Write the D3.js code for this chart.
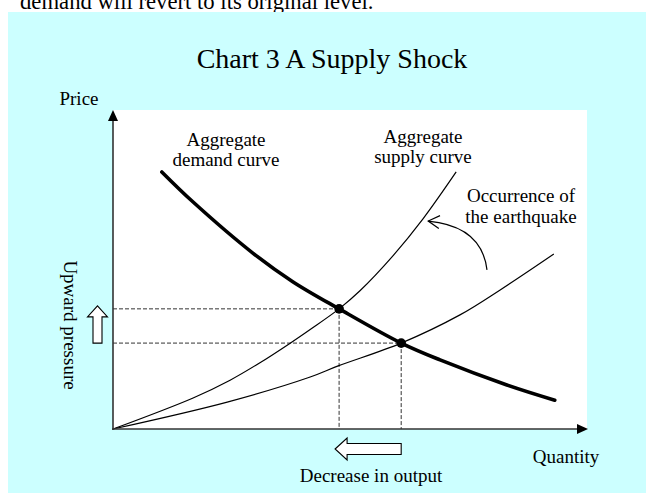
<!DOCTYPE html>
<html><head><meta charset="utf-8">
<script src="https://cdn.jsdelivr.net/npm/d3@7"></script>
<style>html,body{margin:0;padding:0;background:#fff;overflow:hidden}</style>
</head><body><svg id="c" width="646" height="494"></svg>
<script>
// ---- data (quantity, price) in arbitrary 0-100 units ----
const titleText = "Chart 3 A Supply Shock";
const introText = "demand will revert to its original level.";
const axisLabels = ["Quantity", "Price"];
const demandLabel = ["Aggregate", "demand curve"];
const supplyLabel = ["Aggregate", "supply curve"];
const shockLabel = ["Occurrence of", "the earthquake"];
const pressureLabel = ["Upward pressure"];
const outputLabel = ["Decrease in output"];

const demandCurve = [[10.3,81.1],[16.9,71.6],[29.5,55.5],[38.0,46.4],[47.7,37.9],[60.8,27.1],[69.0,21.8],[83.1,13.9],[93.2,9.1]];
const supplyAfter = [[0,0],[16.9,9.8],[24.7,15.4],[31.0,20.9],[37.3,27.0],[41.6,31.4],[47.7,37.9],[52.1,43.6],[59.1,54.7],[65.4,66.3],[72.4,81.1]];
const supplyBefore = [[0,0],[24.1,8.5],[41.6,16.4],[47.5,19.9],[60.8,27.1],[73.2,36.0],[81.6,43.8],[93.0,55.2]];
const equilibria = [[47.7,37.9],[60.8,27.1]];
const shockArrow = [[78.9,50.2],[77.8,64.0],[66.5,65.6]]; // start, control, tip

// ---- drawing ----
const svg = d3.select("#c");
const font = "'Liberation Serif','Times New Roman',serif";
const x = d3.scaleLinear([0,100],[113,587]);
const y = d3.scaleLinear([0,100],[429,112]);

svg.append("text").attr("x",20).attr("y",9).attr("font-family",font).attr("font-size",22.7)
  .attr("fill","#000").text(introText);
svg.append("rect").attr("x",8).attr("y",12).attr("width",640).attr("height",481).attr("fill","#ccffff");
svg.append("rect").attr("x",x(0)).attr("y",110).attr("width",x(100)-x(0)).attr("height",y(0)-110).attr("fill","#fff");

svg.append("text").attr("x",332).attr("y",68).attr("text-anchor","middle").attr("font-family",font)
  .attr("font-size",28).text(titleText);

// dashed guides
const g = svg.append("g");
equilibria.forEach(([q,p])=>{
  g.append("line").attr("x1",x(0)).attr("x2",x(q)).attr("y1",y(p)).attr("y2",y(p))
   .attr("stroke","#333").attr("stroke-width",1).attr("stroke-dasharray","4,2");
  g.append("line").attr("x1",x(q)).attr("x2",x(q)).attr("y1",y(p)).attr("y2",y(0))
   .attr("stroke","#333").attr("stroke-width",1).attr("stroke-dasharray","4,2");
});

const line = d3.line().x(d=>x(d[0])).y(d=>y(d[1])).curve(d3.curveCatmullRom.alpha(0.5));
g.append("path").attr("d",line(supplyBefore)).attr("fill","none").attr("stroke","#000").attr("stroke-width",1.2);
g.append("path").attr("d",line(supplyAfter)).attr("fill","none").attr("stroke","#000").attr("stroke-width",1.2);
g.append("path").attr("d",line(demandCurve)).attr("fill","none").attr("stroke","#000").attr("stroke-width",3.6).attr("stroke-linecap","round");
g.selectAll("circle.eq").data(equilibria).join("circle").attr("cx",d=>x(d[0])).attr("cy",d=>y(d[1])).attr("r",4.8).attr("fill","#000");

// axes
svg.append("line").attr("x1",x(0)).attr("x2",x(0)).attr("y1",y(0)+1).attr("y2",118).attr("stroke","#333").attr("stroke-width",1.6);
svg.append("path").attr("d",`M${x(0)},110 L${x(0)-5},121 L${x(0)+5},121 Z`).attr("fill","#000");
svg.append("line").attr("x1",x(0)-1).attr("x2",580).attr("y1",y(0)).attr("y2",y(0)).attr("stroke","#333").attr("stroke-width",1.6);
svg.append("path").attr("d",`M588,${y(0)} L577,${y(0)-5} L577,${y(0)+5} Z`).attr("fill","#000");

// shock arrow
const [s0,c0,t0] = shockArrow.map(d=>[x(d[0]),y(d[1])]);
svg.append("path").attr("d",`M${s0[0]},${s0[1]} Q${c0[0]},${c0[1]} ${t0[0]},${t0[1]}`).attr("fill","none").attr("stroke","#000").attr("stroke-width",1.2);
const ang = Math.atan2(t0[1]-c0[1], t0[0]-c0[0]);
const arm = 13, spread = Math.PI/6;
const a1 = [t0[0]-arm*Math.cos(ang-spread), t0[1]-arm*Math.sin(ang-spread)];
const a2 = [t0[0]-arm*Math.cos(ang+spread), t0[1]-arm*Math.sin(ang+spread)];
svg.append("path").attr("d",`M${a1[0]},${a1[1]} L${t0[0]},${t0[1]} L${a2[0]},${a2[1]}`).attr("fill","none").attr("stroke","#000").attr("stroke-width",1.2);

// block arrows
const e1 = equilibria[0], e2 = equilibria[1];
// up arrow between the two price levels
const ux = 97.5, yTop = y(e1[1])-3, yBot = y(e2[1]);
svg.append("path").attr("d",
  `M${ux},${yTop} L${ux+10},${yTop+11} L${ux+4.5},${yTop+11} L${ux+4.5},${yBot} L${ux-4.5},${yBot} L${ux-4.5},${yTop+11} L${ux-10},${yTop+11} Z`)
  .attr("fill","#fff").attr("stroke","#000").attr("stroke-width",1.1);
// left arrow between the two quantities
const ly = 449, xL = x(e1[0])-4, xR = x(e2[0]);
svg.append("path").attr("d",
  `M${xL},${ly} L${xL+12},${ly-11} L${xL+12},${ly-5.5} L${xR},${ly-5.5} L${xR},${ly+5.5} L${xL+12},${ly+5.5} L${xL+12},${ly+11} Z`)
  .attr("fill","#fff").attr("stroke","#000").attr("stroke-width",1.1);

// text labels
function lines(arr, cx, by, lh){
  const t = svg.append("text").attr("font-family",font).attr("font-size",19).attr("text-anchor","middle").attr("fill","#000");
  arr.forEach((s,i)=>t.append("tspan").attr("x",cx).attr("y",by+i*lh).text(s));
}
lines(demandLabel, 226, 146, 20);
lines(supplyLabel, 423, 143, 20);
lines(shockLabel, 521, 202, 21);
lines([axisLabels[1]], 79, 105, 0);
lines([axisLabels[0]], 566, 463, 0);
lines(outputLabel, 371, 482, 0);
svg.append("text").attr("transform","translate(64,325) rotate(90)").attr("font-family",font).attr("font-size",19)
  .attr("text-anchor","middle").text(pressureLabel[0]);
</script>
</body></html>
